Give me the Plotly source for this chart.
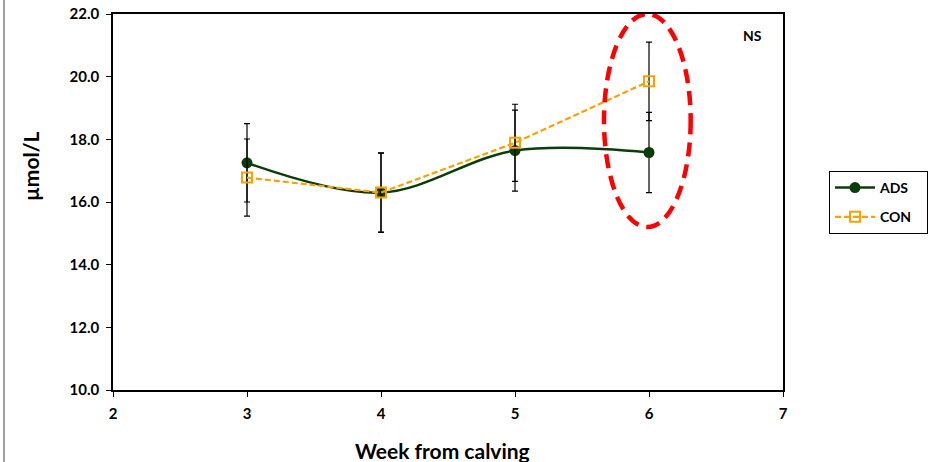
import plotly.graph_objects as go

weeks = [3, 4, 5, 6]
ads_mean = [17.25, 16.30, 17.64, 17.58]
ads_err = [1.25, 1.27, 1.29, 1.28]
con_mean = [16.78, 16.30, 17.89, 19.85]
con_err = [1.23, 1.26, 1.23, 1.25]

x_ticks = [2, 3, 4, 5, 6, 7]
y_ticks = [10, 12, 14, 16, 18, 20, 22]

FONT = "Lato"
fig = go.Figure()

fig.add_trace(go.Scatter(
    x=weeks, y=ads_mean, name="<b>ADS</b>\u00a0\u00a0\u00a0", mode="lines+markers", legendgroup="a",
    line=dict(color="#0b3d0b", width=2.5, shape="spline", smoothing=1.0),
    marker=dict(symbol="circle", size=11, color="#0b3d0b"),
    error_y=dict(type="data", array=ads_err, color="black", thickness=1.2, width=3),
))
fig.add_trace(go.Scatter(
    x=weeks, y=con_mean, name="<b>CON</b>\u00a0\u00a0\u00a0", mode="lines+markers", legendgroup="b",
    line=dict(color="#FFA000", width=2.2, dash="6px,3px"),
    marker=dict(symbol="square-open", size=10, color="#FFA000", line=dict(width=2, color="#FFA000")),
    error_y=dict(type="data", array=con_err, color="black", thickness=1.2, width=3),
))

fig.add_shape(type="circle", xref="x", yref="y", x0=5.664, x1=6.311, y0=15.2, y1=22.0,
              line=dict(color="#FF0000", width=4.5, dash="14px,8px"), layer="above")

fig.add_shape(type="line", xref="paper", yref="paper", x0=-0.1627, x1=-0.1627, y0=-0.2, y1=1.05,
              line=dict(color="#808080", width=1.5))

fig.add_annotation(xref="paper", yref="paper", x=(752 - 113) / 670, y=(390 - 36) / 376,
                   xanchor="center", yanchor="middle", text="<b>NS</b>", showarrow=False,
                   font=dict(family=FONT, size=14, color="black"))

fig.add_annotation(xref="paper", yref="paper", x=(30 - 113) / 670, y=(390 - 166) / 376,
                   xanchor="center", yanchor="middle",
                   text="<b>µmol/L</b>", textangle=-90, showarrow=False,
                   font=dict(family=FONT, size=21, color="black"))
fig.add_annotation(xref="paper", yref="paper", x=(442 - 113) / 670, y=(390 - 450) / 376,
                   xanchor="center", yanchor="middle",
                   text="<b>Week from calving</b>", showarrow=False,
                   font=dict(family=FONT, size=21, color="black"))

fig.update_layout(
    width=928, height=462,
    margin=dict(l=113, r=145, t=14, b=72, autoexpand=False),
    paper_bgcolor="white", plot_bgcolor="white",
    showlegend=True,
    legend=dict(x=(829 - 113) / 670, y=(390 - 171) / 376, xanchor="left", yanchor="top",
                bordercolor="black", borderwidth=1, bgcolor="white", traceorder="grouped",
                font=dict(family=FONT, size=14, color="black"), tracegroupgap=8,
                itemwidth=40),
    font=dict(family=FONT, color="black"),
)
fig.update_xaxes(range=[2, 7], tickvals=x_ticks, ticktext=[f"<b>{v}</b>" for v in x_ticks],
                 showgrid=False, zeroline=False, showline=True, linecolor="black", linewidth=1.5,
                 mirror=True, ticks="outside", ticklen=5, tickcolor="black", automargin=False,
                 ticklabelstandoff=4,
                 tickfont=dict(family=FONT, size=15, color="black"))
fig.update_yaxes(range=[10, 22], tickvals=y_ticks, ticktext=[f"<b>{v:.1f}</b>" for v in y_ticks],
                 showgrid=False, zeroline=False, showline=True, linecolor="black", linewidth=1.5,
                 mirror=True, ticks="outside", ticklen=5, tickcolor="black", automargin=False,
                 ticklabelstandoff=4,
                 tickfont=dict(family=FONT, size=15, color="black"))

fig.write_html("out.html")
